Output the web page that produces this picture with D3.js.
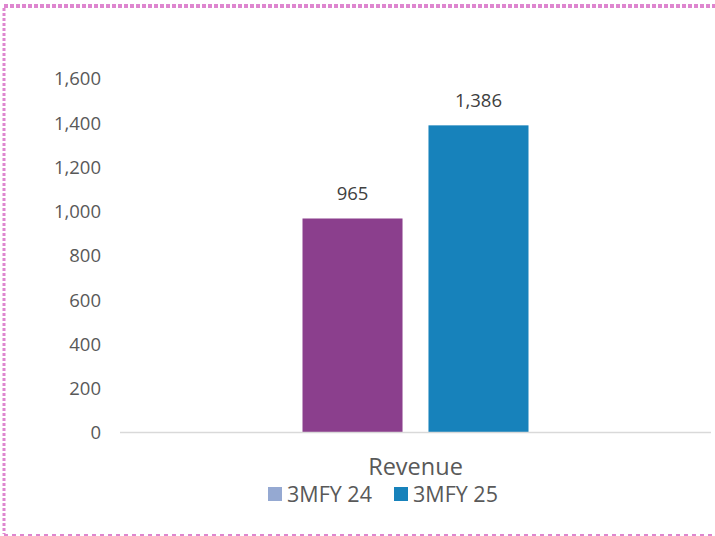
<!DOCTYPE html>
<html><head><meta charset="utf-8">
<script src="https://cdn.jsdelivr.net/npm/d3@7"></script>
<style>body{margin:0;background:#fff}svg{display:block}</style>
</head><body>
<svg id="c" width="715" height="536"></svg>
<script>
const categories = ["Revenue"];
const seriesNames = ["3MFY 24", "3MFY 25"];
const values = [965, 1386];
const barColors = ["#8B3F8D", "#1782BB"];
const legendColors = ["#95A9D2", "#1782BB"];
const yTicks = [0, 200, 400, 600, 800, 1000, 1200, 1400, 1600];

(function () {
const svg = d3.select("#c");
const font = "'Open Sans', 'Liberation Sans', sans-serif";
const txt = "#595959";

// border
svg.append("line").attr("x1", 4).attr("x2", 715).attr("y1", 6).attr("y2", 6)
  .attr("stroke", "#DE86CF").attr("stroke-width", 4).attr("stroke-dasharray", "4,2");
svg.append("line").attr("x1", 4).attr("x2", 4).attr("y1", 8).attr("y2", 534)
  .attr("stroke", "#DE86CF").attr("stroke-width", 3).attr("stroke-dasharray", "3,2");
svg.append("line").attr("x1", 4).attr("x2", 715).attr("y1", 535).attr("y2", 535)
  .attr("stroke", "#DE86CF").attr("stroke-width", 2).attr("stroke-dasharray", "4,4");

const mLeft = 120, mRight = 711, mTop = 78, mBottom = 432;
const y = d3.scaleLinear().domain([0, 1600]).range([mBottom, mTop]);
const x0 = d3.scaleBand().domain(categories).range([mLeft, mRight]);
const x1 = d3.scaleBand().domain(seriesNames).range([x0.bandwidth()/2 - 113, x0.bandwidth()/2 + 113]).paddingInner(0.206);

// y axis labels
const yAxis = d3.axisLeft(y).tickValues(yTicks).tickSize(0).tickPadding(0).tickFormat(d3.format(","));
const ga = svg.append("g").attr("transform", `translate(101,0)`).call(yAxis);
ga.select(".domain").remove();
ga.selectAll("text").attr("fill", txt).attr("dy", "0.37em").style("font-family", font).style("font-size", "18.5px");

// bars
const g = svg.append("g").attr("transform", `translate(${x0(categories[0])},0)`);
seriesNames.forEach((s, i) => {
  g.append("rect").attr("x", x1(s)).attr("width", x1.bandwidth())
    .attr("y", y(values[i])).attr("height", y(0) - y(values[i])).attr("fill", barColors[i]);
  g.append("text").attr("x", x1(s) + x1.bandwidth()/2).attr("y", y(values[i]) - 18)
    .attr("text-anchor", "middle").attr("fill", "#404040")
    .style("font-family", font).style("font-size", "18.5px").text(d3.format(",")(values[i]));
});

// baseline
svg.append("line").attr("x1", mLeft).attr("x2", mRight).attr("y1", mBottom + 0.5).attr("y2", mBottom + 0.5)
  .attr("stroke", "#D9D9D9").attr("stroke-width", 1.5);

// category label
const xAxis = d3.axisBottom(x0).tickSize(0).tickPadding(0);
const gx = svg.append("g").attr("transform", `translate(0,0)`).call(xAxis);
gx.select(".domain").remove();
gx.selectAll("text").attr("fill", txt).attr("y", 475).attr("dy", null)
  .style("font-family", font).style("font-size", "23.5px");

// legend
const lg = svg.append("g");
const legendX = [268, 394];
seriesNames.forEach((s, i) => {
  lg.append("rect").attr("x", legendX[i]).attr("y", 487).attr("width", 14).attr("height", 14).attr("fill", legendColors[i]);
  lg.append("text").attr("x", legendX[i] + 19).attr("y", 501.5).attr("fill", txt)
    .style("font-family", font).style("font-size", "21.5px").text(s);
});
})();
</script>
</body></html>
